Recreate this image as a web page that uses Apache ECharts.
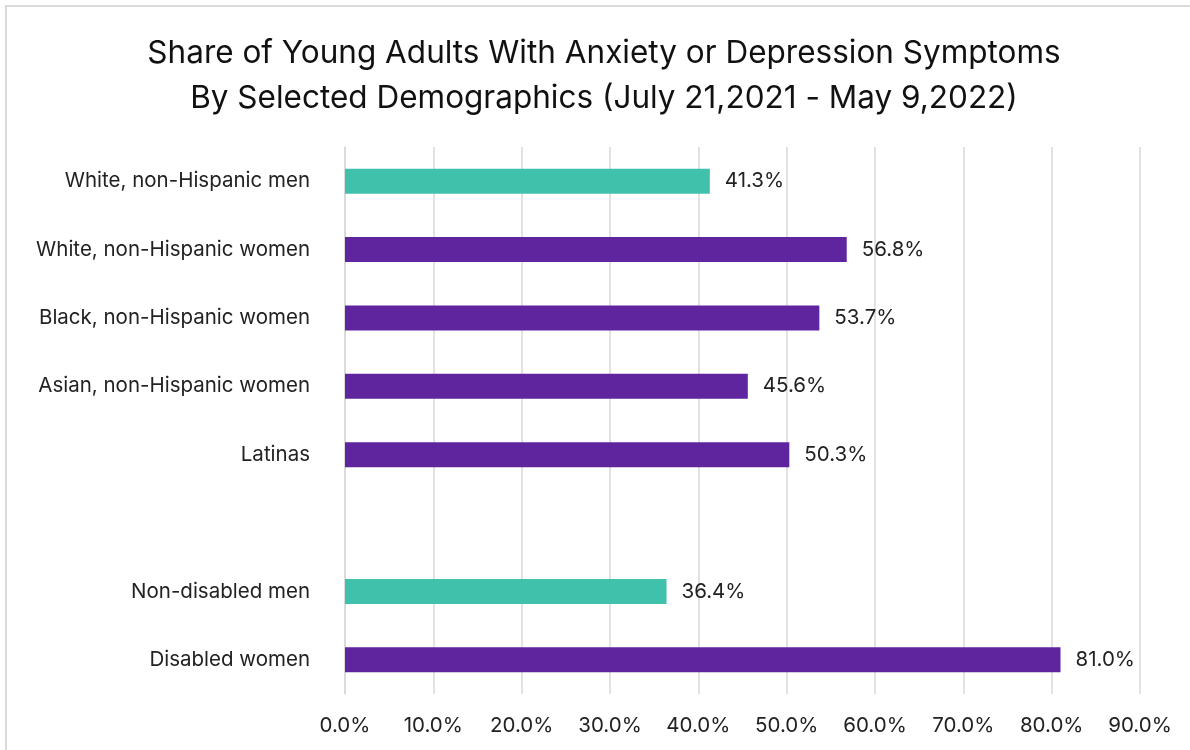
<!DOCTYPE html>
<html>
<head>
<meta charset="utf-8">
<script src="https://cdn.jsdelivr.net/npm/echarts@6/dist/echarts.min.js"></script>
<style>
  html, body { margin: 0; padding: 0; background: #fff; }
  #chart { width: 1190px; height: 750px; }
</style>
</head>
<body>
<div id="chart"></div>
<script>
// Groups, top to bottom; the empty entry is the gap between the two blocks
const categories = [
  'White, non-Hispanic men',
  'White, non-Hispanic women',
  'Black, non-Hispanic women',
  'Asian, non-Hispanic women',
  'Latinas',
  '',
  'Non-disabled men',
  'Disabled women'
];
// Share with symptoms, percent
const shares = [41.3, 56.8, 53.7, 45.6, 50.3, null, 36.4, 81.0];
// Men are drawn in teal, women in purple
const isMen = [true, false, false, false, false, false, true, false];

const TEAL = '#40C1AC';
const PURPLE = '#5E259F';
const FONT = 'Inter, "Noto Sans", sans-serif';
const SMALL = 20.5;

const chart = echarts.init(document.getElementById('chart'));

const barData = shares.map((v, i) => ({
  value: v,
  itemStyle: { color: isMen[i] ? TEAL : PURPLE }
}));

chart.setOption({
  animation: false,
  backgroundColor: '#fff',
  graphic: [{
    type: 'rect',
    shape: { x: 6, y: 6, width: 1300, height: 900 },
    style: { fill: 'none', stroke: '#d9d9d9', lineWidth: 2 },
    silent: true
  }],
  title: {
    text: 'Share of Young Adults With Anxiety or Depression Symptoms\nBy Selected Demographics (July 21,2021 - May 9,2022)',
    left: 599,
    textAlign: 'center',
    top: 26,
    textStyle: {
      fontFamily: FONT,
      fontSize: 31.5,
      fontWeight: 'normal',
      color: '#111',
      lineHeight: 45
    }
  },
  grid: { left: 345, right: 50, top: 147, bottom: 56, containLabel: false },
  xAxis: {
    type: 'value',
    min: 0,
    max: 90,
    interval: 10,
    axisLine: { show: false },
    axisTick: { show: false },
    splitLine: { show: true, lineStyle: { color: '#d9d9d9', width: 1.5 } },
    axisLabel: {
      formatter: v => v.toFixed(1) + '%',
      fontFamily: FONT,
      fontSize: SMALL,
      color: '#222',
      margin: 21
    }
  },
  yAxis: {
    type: 'category',
    data: categories,
    inverse: true,
    axisLine: { show: true, lineStyle: { color: '#d9d9d9', width: 1.5 } },
    axisTick: { show: false },
    axisLabel: {
      fontFamily: FONT,
      fontSize: SMALL,
      color: '#222',
      margin: 35
    }
  },
  series: [{
    type: 'bar',
    data: barData,
    barWidth: 25,
    label: {
      show: true,
      position: 'right',
      distance: 15,
      formatter: p => (p.value == null ? '' : p.value.toFixed(1) + '%'),
      fontFamily: FONT,
      fontSize: SMALL,
      color: '#222'
    }
  }]
});
</script>
</body>
</html>
